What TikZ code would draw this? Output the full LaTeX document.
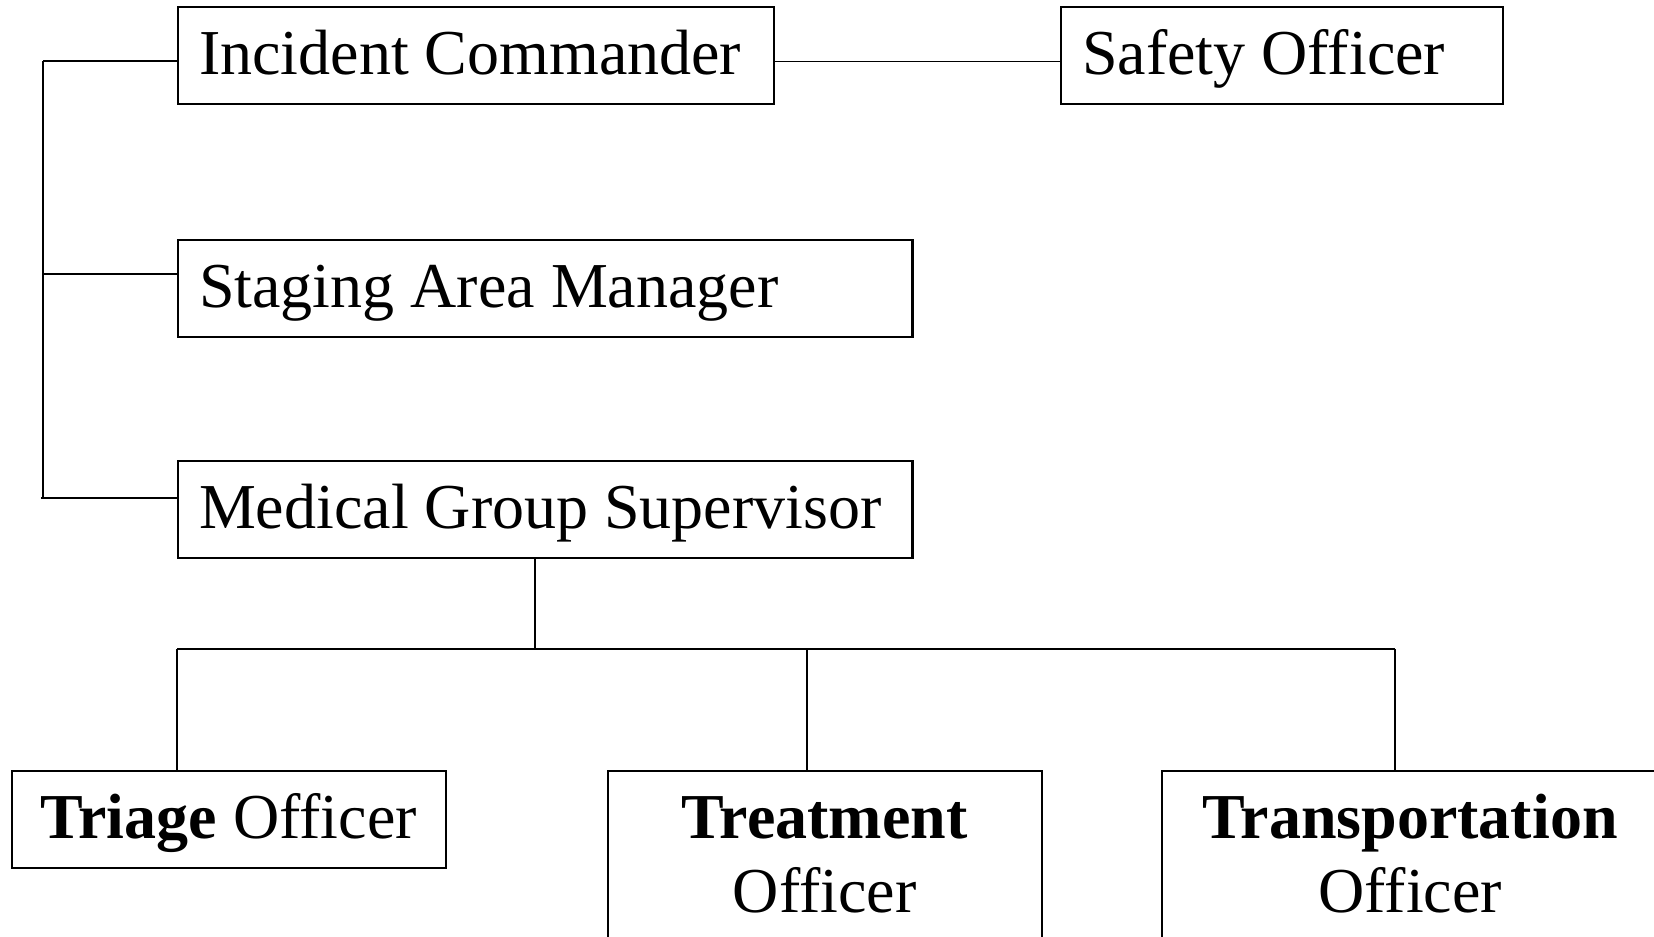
\documentclass[tikz,border=0pt]{standalone}
\usepackage{fontspec}
\setmainfont{Liberation Serif}
\usetikzlibrary{positioning}

\begin{document}
\begin{tikzpicture}[
  x=0.01cm, y=-0.01cm,
  box/.style={draw,line width=0.6pt,anchor=north west,inner xsep=0.21cm,inner ysep=4.3pt,
              text height=15pt,text depth=4pt,font=\fontsize{18.2}{21}\selectfont},
  leftbox/.style={box,align=flush left},
  unitbox/.style={box,align=flush center},
  link/.style={line width=0.45pt},
  bus/.style={line width=0.6pt}
]

  \useasboundingbox (0,0) rectangle (1654,937);
  \clip (0,0) rectangle (1654,937);

  %% ===== COMMAND LEVEL =====

  % Incident commander and safety officer
  \node[leftbox,text width=5.54cm] (ic) at (177,6) {Incident Commander};
  \node[leftbox,text width=4.00cm] (so) at (1060,6) {Safety Officer};

  \draw[link] ([yshift=-0.06cm]ic.east) -- ([yshift=-0.06cm]so.west);

  % Staging and medical group
  \node[leftbox,text width=6.92cm] (sam) at (177,239) {Staging Area Manager};
  \node[leftbox,text width=6.92cm] (mgs) at (177,460) {Medical Group Supervisor};

  % left spine
  \coordinate (s1) at (43,61);
  \coordinate (s2) at (43,274);
  \coordinate (s3) at (43,498);

  \draw[link] (s1) -- (s3);
  \draw[link] (s1) -- (s1 -| ic.west);
  \draw[link] (s2) -- (s2 -| sam.west);
  \draw[link] ([xshift=-0.02cm]s3) -- (s3 -| mgs.west);

  %% ===== MEDICAL GROUP UNITS =====

  \node[unitbox,text width=3.92cm] (tri) at (10.5,770) {\textbf{Triage} Officer};
  \node[unitbox,text width=3.92cm,text depth=30pt] (trt) at (606.5,770)
    {\textbf{Treatment}\\Officer};
  \node[unitbox,text width=4.54cm,text depth=30pt] (trn) at (1161,770)
    {\textbf{Transportation}\\Officer};

  % stem and bus
  \coordinate (hub) at (535,649);
  \coordinate (b1) at (177,649);
  \coordinate (b2) at (807,649);
  \coordinate (b3) at (1395,649);

  \draw[link] (hub |- mgs.south) -- (hub);
  \draw[bus] (b1) -- (b3);
  \draw[link] (b1) -- (b1 |- tri.north);
  \draw[link] (b2) -- (b2 |- trt.north);
  \draw[link] (b3) -- (b3 |- trn.north);

\end{tikzpicture}
\end{document}
